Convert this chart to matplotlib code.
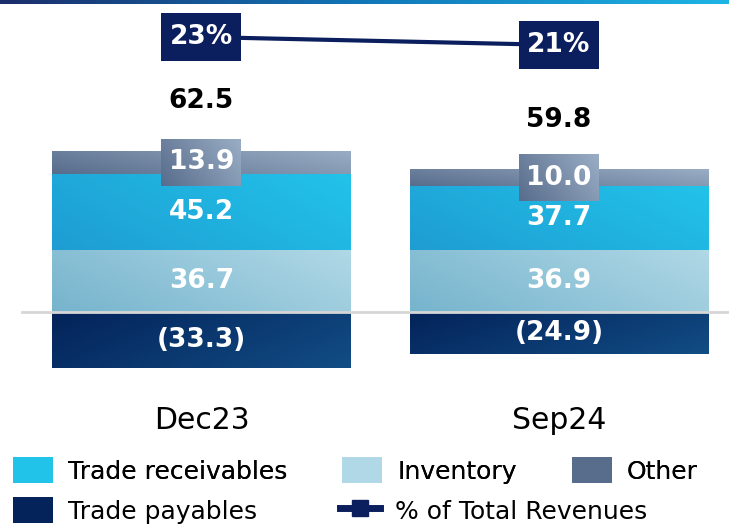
import matplotlib.pyplot as plt
import numpy as np
from matplotlib.colors import LinearSegmentedColormap
from matplotlib.patches import Patch
from matplotlib.lines import Line2D

# data
categories = ['Dec23', 'Sep24']
inventory = [36.7, 36.9]
receivables = [45.2, 37.7]
other = [13.9, 10.0]
payables = [-33.3, -24.9]
totals = [62.5, 59.8]
pct_revenues = [23, 21]

# colours (dark -> light for the diagonal gradients)
c_recv = ('#1E9DD3', '#22C3E9')
c_inv = ('#76B4CD', '#B0D8E6')
c_other = ('#586D8C', '#9AADC5')
c_pay = ('#03235A', '#114D84')
navy = '#0B1F5E'

W, H = 729, 528
fig = plt.figure(figsize=(W / 100, H / 100), dpi=100)

# axes covers px 0..395 vertically, full width
ax_bottom_px = 395
ax = fig.add_axes([0, 1 - ax_bottom_px / H, 1, ax_bottom_px / H])
px_x = 357.5   # pixels per category step
px_y = 1.685   # pixels per unit
base_px = 312  # y pixel of zero line


def gradient_fill(ax, patch, colors, zorder):
    cmap = LinearSegmentedColormap.from_list('g', colors)
    gx, gy = np.meshgrid(np.linspace(0, 1, 64), np.linspace(0, 1, 64))
    x0, y0 = patch.get_x(), patch.get_y()
    w, h = patch.get_width(), patch.get_height()
    im = ax.imshow(0.7 * gx + 0.3 * gy, cmap=cmap, origin='lower', aspect='auto',
                   extent=(x0, x0 + w, y0, y0 + h), zorder=zorder,
                   interpolation='bilinear')
    im.set_clip_path(patch)
    return im


x = np.arange(len(categories))
width = 299 / px_x
inv_b = ax.bar(x, inventory, width, color=c_inv[1], zorder=2)
recv_b = ax.bar(x, receivables, width, bottom=inventory, color=c_recv[1], zorder=2)
bottom_other = np.array(inventory) + np.array(receivables)
oth_b = ax.bar(x, other, width, bottom=bottom_other, color=c_other[1], zorder=2)
pay_b = ax.bar(x, payables, width, color=c_pay[1], zorder=2)

for bars, cols in [(inv_b, c_inv), (recv_b, c_recv), (oth_b, c_other), (pay_b, c_pay)]:
    for p in bars:
        gradient_fill(ax, p, cols, 2.5)

# boxes behind the "Other" labels
box_w, box_h = 80 / px_x, 47 / px_y
for i, p in enumerate(oth_b):
    cy = p.get_y() + p.get_height() / 2
    bx = plt.Rectangle((x[i] - box_w / 2, cy - box_h / 2), box_w, box_h,
                       facecolor='none', edgecolor='none', zorder=3)
    ax.add_patch(bx)
    gradient_fill(ax, bx, c_other, 3)

lab_kw = dict(label_type='center', color='white', fontweight='bold',
              fontsize=19, zorder=5)
ax.bar_label(inv_b, labels=[f'{v:.1f}' for v in inventory], **lab_kw)
ax.bar_label(recv_b, labels=[f'{v:.1f}' for v in receivables], **lab_kw)
ax.bar_label(oth_b, labels=[f'{v:.1f}' for v in other], **lab_kw)
ax.bar_label(pay_b, labels=[f'({abs(v):.1f})' for v in payables], **lab_kw)
ax.bar_label(oth_b, labels=[f'{v:.1f}' for v in totals], padding=26,
             color='black', fontweight='bold', fontsize=19)

# zero line
ax.axhline(0, xmin=22 / W, xmax=1, color='#D6D6D6', lw=2, zorder=4)

ax.set_xlim(-201.5 / px_x, (W - 201.5) / px_x)
ax.set_ylim(-(ax_bottom_px - base_px) / px_y, base_px / px_y)
ax.set_xticks(x, categories, fontsize=21.5)
ax.tick_params(axis='x', length=0, pad=8)
ax.set_yticks([])
for s in ax.spines.values():
    s.set_visible(False)
ax.patch.set_alpha(0)

# % of total revenues on a secondary scale
ax2 = ax.twinx()
ax2.set_ylim(23 + 37 / 4 - ax_bottom_px / 4, 23 + 37 / 4)
rect_marker = [(-1, -0.6), (1, -0.6), (1, 0.6), (-1, 0.6), (-1, -0.6)]
ax2.plot(x, pct_revenues, color=navy, lw=3, marker=rect_marker, ms=57.6,
         markeredgewidth=0, zorder=3)
for i, v in enumerate(pct_revenues):
    ax2.text(x[i], v, f'{v}%', color='white', fontweight='bold', fontsize=19,
             ha='center', va='center', zorder=4)
ax2.set_yticks([])
for s in ax2.spines.values():
    s.set_visible(False)

# top stripe
ax_top = fig.add_axes([0, 1 - 4 / H, 1, 4 / H])
stripe = LinearSegmentedColormap.from_list('s', ['#1B2E6B', '#1177B8', '#1EB4E4'])
ax_top.imshow(np.linspace(0, 1, 256)[None, :], cmap=stripe, aspect='auto')
ax_top.axis('off')

# legend
leg_kw = dict(frameon=False, fontsize=18, handlelength=1.6, handleheight=1.25,
              handletextpad=0.6, borderpad=0, borderaxespad=0, loc='upper left')
h1 = [Patch(facecolor=c_recv[1], edgecolor='none', label='Trade receivables'),
      Patch(facecolor=c_inv[1], edgecolor='none', label='Inventory'),
      Patch(facecolor=c_other[0], edgecolor='none', label='Other')]
leg1 = fig.legend(handles=h1, ncol=3, columnspacing=2.2,
                  bbox_to_anchor=(13 / W, 1 - 457 / H), **leg_kw)
h2 = [Patch(facecolor=c_pay[0], edgecolor='none', label='Trade payables'),
      Line2D([], [], color=navy, lw=5, marker='s', ms=11,
             label='% of Total Revenues')]
fig.legend(handles=h2, ncol=2, columnspacing=3.3,
           bbox_to_anchor=(13 / W, 1 - 497 / H), **leg_kw)
fig.add_artist(leg1)

plt.savefig('out.png', dpi=100)
